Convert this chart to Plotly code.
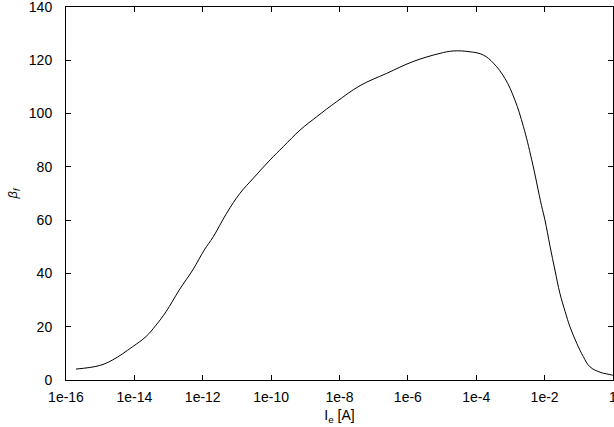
import plotly.graph_objects as go

# emitter current [A] and forward current gain
ie_amps = [1.96e-16, 9.4e-16, 2.3e-15, 8.9e-15, 2.19e-14, 4.3e-14, 8.4e-14, 2.06e-13,
           5.1e-13, 1.11e-12, 2.04e-12, 5.0e-12, 1.23e-11, 3.0e-11, 9.3e-11, 2.27e-10,
           7.0e-10, 2.15e-9, 8.3e-9, 4.0e-8, 2.4e-7, 1.4e-6, 8.7e-6, 2.1e-5, 6.6e-5,
           1.6e-4, 3.2e-4, 6.9e-4, 1.35e-3, 2.4e-3, 4.2e-3, 8.1e-3, 1.02e-2, 1.45e-2,
           2.0e-2, 2.8e-2, 4.0e-2, 5.5e-2, 8.7e-2, 0.135, 0.21, 0.42, 0.91, 1.0]
beta_f = [4.1, 5.4, 7.5, 12.5, 16.3, 20.6, 25.6, 33.8,
          41.3, 48.8, 53.8, 62.6, 70.1, 75.7, 82.6, 87.6,
          93.8, 98.8, 104.5, 110.5, 115.1, 119.5, 122.6, 123.5, 123.2,
          122.0, 118.9, 113.2, 105.1, 95.1, 82.6, 65.5, 60.1, 50.0,
          41.3, 32.5, 25.6, 20.0, 13.8, 8.8, 5.0, 2.9, 1.9, 1.7]

x_tickvals = [1e-16, 1e-14, 1e-12, 1e-10, 1e-8, 1e-6, 1e-4, 1e-2, 1]
x_ticktext = ["1e-16", "1e-14", "1e-12", "1e-10", "1e-8", "1e-6", "1e-4", "1e-2", "1"]
y_tickvals = [0, 20, 40, 60, 80, 100, 120, 140]

fig = go.Figure()
fig.add_trace(go.Scatter(x=ie_amps, y=beta_f, mode="lines",
                         line=dict(color="black", width=1, shape="spline", smoothing=1.1),
                         showlegend=False))

fig.update_layout(
    width=614, height=427,
    margin=dict(l=66, r=1, t=7, b=47),
    paper_bgcolor="white", plot_bgcolor="white",
    font=dict(family="Liberation Sans, Arial, sans-serif", size=14, color="black"),
)
fig.update_xaxes(type="log", range=[-16.0001, 0.0001], tickvals=x_tickvals, ticktext=x_ticktext,
                 showline=True, linecolor="black", linewidth=1, mirror="ticks",
                 ticks="inside", ticklen=5, tickcolor="black", showgrid=False, zeroline=False,
                 ticklabelstandoff=4, automargin=False, ticklabeloverflow="allow",
                 title=dict(text="I<sub>e</sub> [A]", standoff=6, font=dict(size=14)))
fig.update_yaxes(range=[-0.01, 140.01], tickvals=y_tickvals,
                 showline=True, linecolor="black", linewidth=1, mirror="ticks",
                 ticks="inside", ticklen=5, tickcolor="black", showgrid=False, zeroline=False,
                 ticklabelstandoff=10, automargin=False, ticklabeloverflow="allow",
                 title=dict(text="<i>β<sub>f</sub></i>", standoff=8, font=dict(size=13)))

# drop the default page margin so the figure sits at the window corner
fig.write_html("out.html", config={"displayModeBar": False},
               post_script="document.body.style.margin='0';")
